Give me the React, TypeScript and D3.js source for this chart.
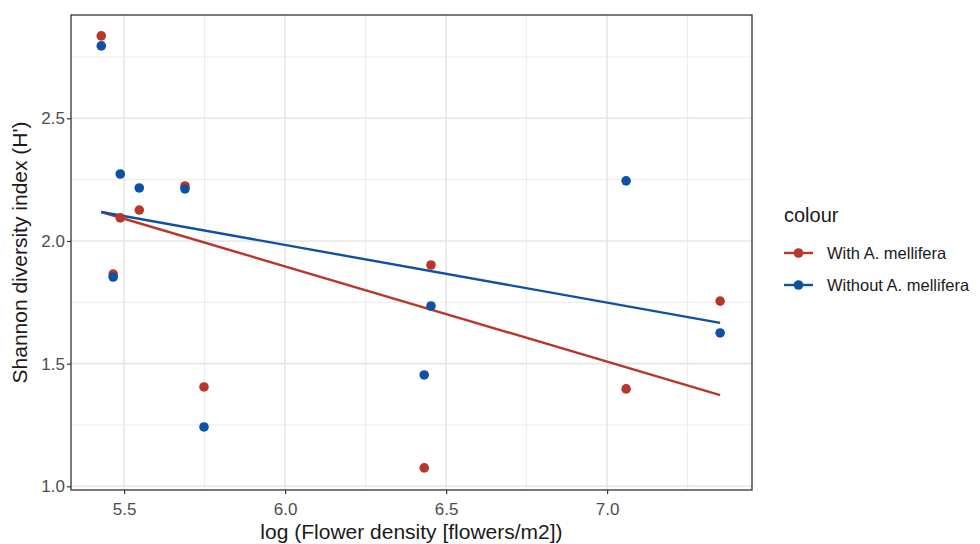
import React, { useEffect, useRef } from 'react';
import * as d3 from 'd3';

// log flower density per site
const density = [5.429, 5.466, 5.488, 5.547, 5.689, 5.748, 6.432, 6.453, 7.059, 7.351];
const withMellifera = [2.836, 1.865, 2.094, 2.126, 2.224, 1.405, 1.075, 1.902, 1.397, 1.755];
const withoutMellifera = [2.795, 1.853, 2.273, 2.216, 2.212, 1.242, 1.454, 1.735, 2.245, 1.625];

// fitted lines (start / end values)
const fitX = [5.429, 7.351];
const fitWith = [2.118, 1.372];
const fitWithout = [2.118, 1.666];

const xTicks = [5.5, 6.0, 6.5, 7.0];
const yTicks = [1.0, 1.5, 2.0, 2.5];
const xMinor = [5.75, 6.25, 6.75, 7.25];
const yMinor = [1.25, 1.75, 2.25, 2.75];

const seriesNames = ['With A. mellifera', 'Without A. mellifera'];
const colors = ['#b8372a', '#0d50a6'];

const W = 980;
const H = 544;
const margin = { top: 15, right: 228, bottom: 54, left: 71 };

const App: React.FC = () => {
  const svgRef = useRef<SVGSVGElement>(null);

  useEffect(() => {
    if (!svgRef.current) return;
    const svg = d3.select(svgRef.current);
    svg.selectAll('*').remove();

    const w = W - margin.left - margin.right;
    const h = H - margin.top - margin.bottom;
    const font = 'Liberation Sans, Arial, sans-serif';

    const x = d3.scaleLinear().domain([5.335, 7.45]).range([0, w]);
    const y = d3.scaleLinear().domain([0.985, 2.921]).range([h, 0]);

    const g = svg.append('g').attr('transform', `translate(${margin.left},${margin.top})`);

    // minor grid
    g.selectAll('.xminor').data(xMinor).enter().append('line')
      .attr('x1', d => x(d)).attr('x2', d => x(d)).attr('y1', 0).attr('y2', h)
      .attr('stroke', '#ebebeb').attr('stroke-width', 1);
    g.selectAll('.yminor').data(yMinor).enter().append('line')
      .attr('x1', 0).attr('x2', w).attr('y1', d => y(d)).attr('y2', d => y(d))
      .attr('stroke', '#ebebeb').attr('stroke-width', 1);
    // major grid
    g.selectAll('.xmajor').data(xTicks).enter().append('line')
      .attr('x1', d => x(d)).attr('x2', d => x(d)).attr('y1', 0).attr('y2', h)
      .attr('stroke', '#e6e6e6').attr('stroke-width', 1.6);
    g.selectAll('.ymajor').data(yTicks).enter().append('line')
      .attr('x1', 0).attr('x2', w).attr('y1', d => y(d)).attr('y2', d => y(d))
      .attr('stroke', '#e6e6e6').attr('stroke-width', 1.6);

    // fit lines
    const fits = [fitWith, fitWithout];
    const line = d3.line<number>().x((_, i) => x(fitX[i])).y(d => y(d));
    fits.forEach((f, i) => {
      g.append('path')
        .attr('d', line(f) || '')
        .attr('fill', 'none')
        .attr('stroke', colors[i])
        .attr('stroke-width', 2.4);
    });

    // points
    [withMellifera, withoutMellifera].forEach((vals, i) => {
      g.selectAll(`.pt${i}`).data(vals).enter().append('circle')
        .attr('cx', (_, j) => x(density[j]))
        .attr('cy', d => y(d))
        .attr('r', 4.8)
        .attr('fill', colors[i]);
    });

    // panel border
    g.append('rect').attr('x', 0).attr('y', 0).attr('width', w).attr('height', h)
      .attr('fill', 'none').attr('stroke', '#333333').attr('stroke-width', 1.3);

    // axes
    const xAxis = g.append('g').attr('transform', `translate(0,${h})`)
      .call(d3.axisBottom(x).tickValues(xTicks).tickFormat(d3.format('.1f')).tickSize(4).tickSizeOuter(0));
    const yAxis = g.append('g')
      .call(d3.axisLeft(y).tickValues(yTicks).tickFormat(d3.format('.1f')).tickSize(4).tickSizeOuter(0));
    [xAxis, yAxis].forEach(a => {
      a.select('.domain').remove();
      a.selectAll('line').attr('stroke', '#333333').attr('stroke-width', 1.2);
      a.selectAll('text').attr('fill', '#4d4d4d').attr('font-size', 17).attr('font-family', font);
    });
    xAxis.selectAll('text').attr('y', 9).attr('dy', '0.95em');
    yAxis.selectAll('text').attr('x', -6);

    // axis titles
    g.append('text').attr('x', w / 2).attr('y', h + 49).attr('text-anchor', 'middle')
      .attr('font-family', font).attr('font-size', 21).attr('fill', '#1a1a1a')
      .text('log (Flower density [flowers/m2])');
    g.append('text').attr('transform', `translate(${-44},${h / 2}) rotate(-90)`)
      .attr('text-anchor', 'middle')
      .attr('font-family', font).attr('font-size', 21).attr('fill', '#1a1a1a')
      .text("Shannon diversity index (H')");

    // legend
    const lg = svg.append('g').attr('transform', `translate(784,0)`);
    lg.append('text').attr('x', 0).attr('y', 222)
      .attr('font-family', font).attr('font-size', 20).attr('fill', '#1a1a1a').text('colour');
    seriesNames.forEach((name, i) => {
      const cy = 253 + i * 32;
      lg.append('line').attr('x1', 0).attr('x2', 29).attr('y1', cy).attr('y2', cy)
        .attr('stroke', colors[i]).attr('stroke-width', 2.4);
      lg.append('circle').attr('cx', 14.5).attr('cy', cy).attr('r', 4.8).attr('fill', colors[i]);
      lg.append('text').attr('x', 43).attr('y', cy + 6)
        .attr('font-family', font).attr('font-size', 16.5).attr('fill', '#1a1a1a').text(name);
    });
  }, []);

  return (
    <div style={{ position: 'absolute', left: 0, top: 0, width: W, height: H, background: '#fff' }}>
      <svg ref={svgRef} width={W} height={H} style={{ display: 'block' }} />
    </div>
  );
};

export default App;
